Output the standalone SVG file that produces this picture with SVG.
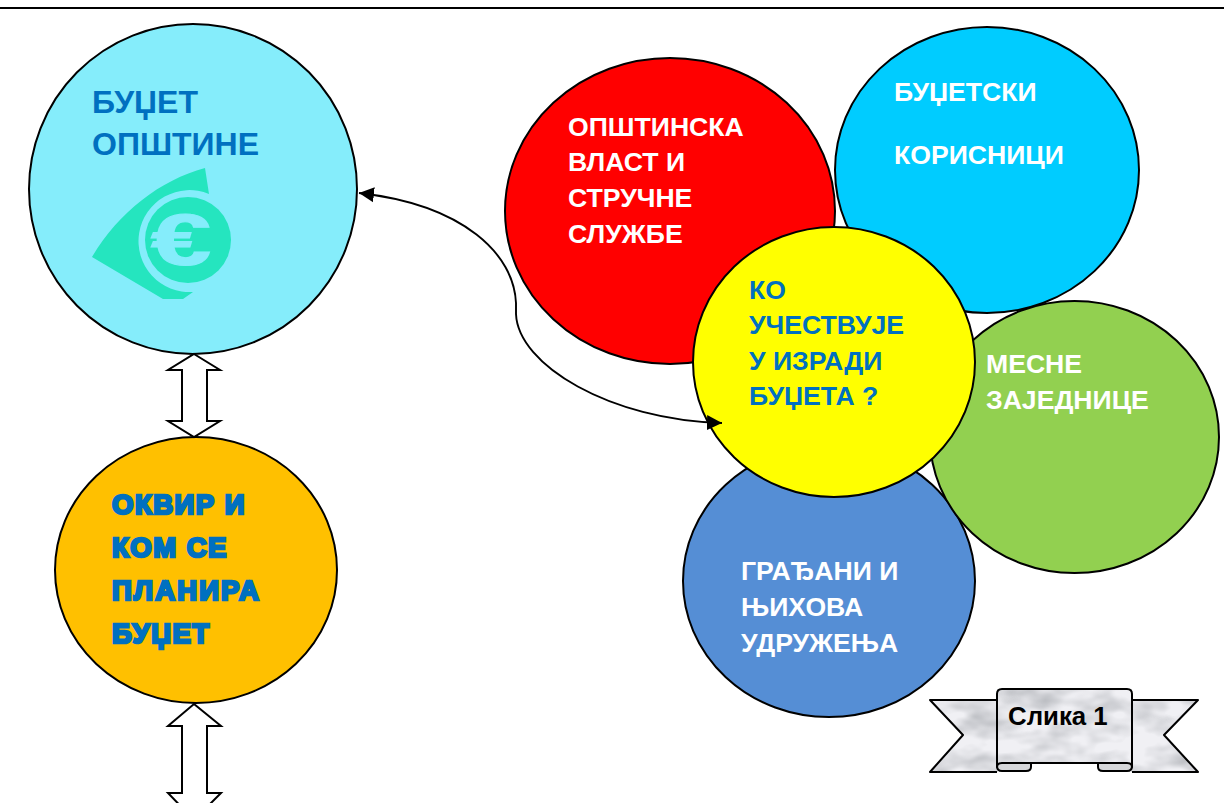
<svg xmlns="http://www.w3.org/2000/svg" width="1224" height="803" viewBox="0 0 1224 803">
<style>
.c{stroke:#000;stroke-width:2}
.t{font-family:"Liberation Sans",Arial,sans-serif;font-weight:700;font-size:26.6px;fill:#fff}
.b{fill:#0070c0}
.h{font-size:32px}
.x{stroke:#0070c0;stroke-width:2.6px;font-size:27.5px;letter-spacing:1.5px}
.ar{fill:#fff;stroke:#000;stroke-width:2;stroke-linejoin:miter}
.ln{fill:none;stroke:#000;stroke-width:1.9}
.ri{stroke:#000;stroke-width:2;stroke-linejoin:round}
</style>
<defs>
<marker id="ah" markerWidth="16" markerHeight="16" refX="15" refY="8" orient="auto" markerUnits="userSpaceOnUse"><path d="M0 0.5L15 8L0 15.5Z" fill="#000"/></marker>
<filter id="marble" x="0" y="0" width="1" height="1" color-interpolation-filters="sRGB">
<feTurbulence type="fractalNoise" baseFrequency="0.025 0.045" numOctaves="3" seed="11" result="n"/>
<feColorMatrix in="n" type="matrix" values="0 0 0 0 0.68  0 0 0 0 0.69  0 0 0 0 0.71  1.6 0 0 0 -0.6" result="g"/>
<feFlood flood-color="#f0f0f4"/>
<feComposite in="g" operator="over"/>
<feComposite in2="SourceAlpha" operator="in"/>
</filter>
</defs>
<rect width="1224" height="803" fill="#fff"/>
<rect x="0" y="7" width="1224" height="2" fill="#000"/>

<g id="budget-municipality">
<ellipse class="c" cx="193" cy="189" rx="164" ry="165" fill="#85edfb"/>
<path d="M92 257C118 213 160 180 205 168L209 194A51 51 0 1 0 193 292L183 299H163Z" fill="#25e5bf"/>
<circle cx="188" cy="240" r="43" fill="#25e5bf"/>
<text transform="translate(181 265) scale(1.5 1)" text-anchor="middle" font-family="Liberation Sans,Arial,sans-serif" font-weight="700" font-size="72" fill="#85edfb" stroke="#85edfb" stroke-width="1.2">€</text>
<text class="t b h" x="92" y="113">БУЏЕТ</text>
<text class="t b h" x="92" y="155">ОПШТИНЕ</text>
</g>

<g id="budget-frame">
<ellipse class="c" cx="196" cy="570" rx="141" ry="133" fill="#ffc000"/>
<text class="t b x" x="112" y="514">ОКВИР И</text>
<text class="t b x" x="112" y="557">КОМ СЕ</text>
<text class="t b x" x="112" y="600" style="letter-spacing:2.1px">ПЛАНИРА</text>
<text class="t b x" x="112" y="643">БУЏЕТ</text>
</g>

<g id="municipal-authority">
<ellipse class="c" cx="670" cy="211" rx="165" ry="153" fill="#ff0000"/>
<text class="t" x="568" y="136">ОПШТИНСКА</text>
<text class="t" x="568" y="171">ВЛАСТ И</text>
<text class="t" x="568" y="207">СТРУЧНЕ</text>
<text class="t" x="568" y="243">СЛУЖБЕ</text>
</g>

<g id="budget-users">
<ellipse class="c" cx="987" cy="170" rx="152" ry="143" fill="#00ccff"/>
<text class="t" x="894" y="101">БУЏЕТСКИ</text>
<text class="t" x="894" y="164">КОРИСНИЦИ</text>
</g>

<g id="citizens">
<ellipse class="c" cx="829" cy="581" rx="146" ry="136" fill="#558ed5"/>
<text class="t" x="741" y="580">ГРАЂАНИ И</text>
<text class="t" x="741" y="616">ЊИХОВА</text>
<text class="t" x="741" y="652">УДРУЖЕЊА</text>
</g>

<g id="local-communities">
<ellipse class="c" cx="1074.5" cy="437" rx="144.5" ry="136" fill="#92d050"/>
<text class="t" x="986" y="373">МЕСНЕ</text>
<text class="t" x="986" y="409">ЗАЈЕДНИЦЕ</text>
</g>

<g id="who-participates">
<ellipse class="c" cx="834" cy="362" rx="141" ry="135" fill="#ffff00"/>
<text class="t b" x="749" y="299">КО</text>
<text class="t b" x="749" y="334">УЧЕСТВУЈЕ</text>
<text class="t b" x="749" y="370">У ИЗРАДИ</text>
<text class="t b" x="749" y="405">БУЏЕТА ?</text>
</g>

<g id="connectors">
<path class="ln" marker-end="url(#ah)" d="M516 303C514 255 465 205 359 193"/>
<path class="ln" d="M516 303V314"/>
<path class="ln" marker-end="url(#ah)" d="M516 314C518 365 610 420 722 423"/>
<path class="ar" d="M194 354L220 370H207V421H220L194 437L168 421H182V370H168Z"/>
<path class="ar" d="M194 704L221 726H207V793H221L194 820L168 793H182V726H168Z"/>
</g>

<g id="figure-label">
<path class="ri" fill="#e0e0e4" filter="url(#marble)" d="M997 700H930L963 735L930 772H997Z M1132 700H1198L1164 735L1198 772H1132Z"/>
<path class="ri" fill="none" d="M997 700H930L963 735L930 772H997 M1132 700H1198L1164 735L1198 772H1132"/>
<path class="ri" fill="#d6d7da" d="M997 760H1031V767Q1031 771 1026 771H1002Q997 771 997 766Z M1132 760H1098V767Q1098 771 1103 771H1127Q1132 771 1132 766Z"/>
<path class="ri" fill="#e6e6ea" filter="url(#marble)" d="M1002 689H1127Q1132 689 1132 694V767Q1132 763 1127 763H1002Q997 763 997 767V694Q997 689 1002 689Z"/>
<path class="ri" fill="none" d="M1002 689H1127Q1132 689 1132 694V767Q1132 763 1127 763H1002Q997 763 997 767V694Q997 689 1002 689Z"/>
<text x="1008" y="725" font-family="Liberation Sans,Arial,sans-serif" font-weight="700" font-size="25.8" fill="#000">Слика 1</text>
</g>
</svg>
